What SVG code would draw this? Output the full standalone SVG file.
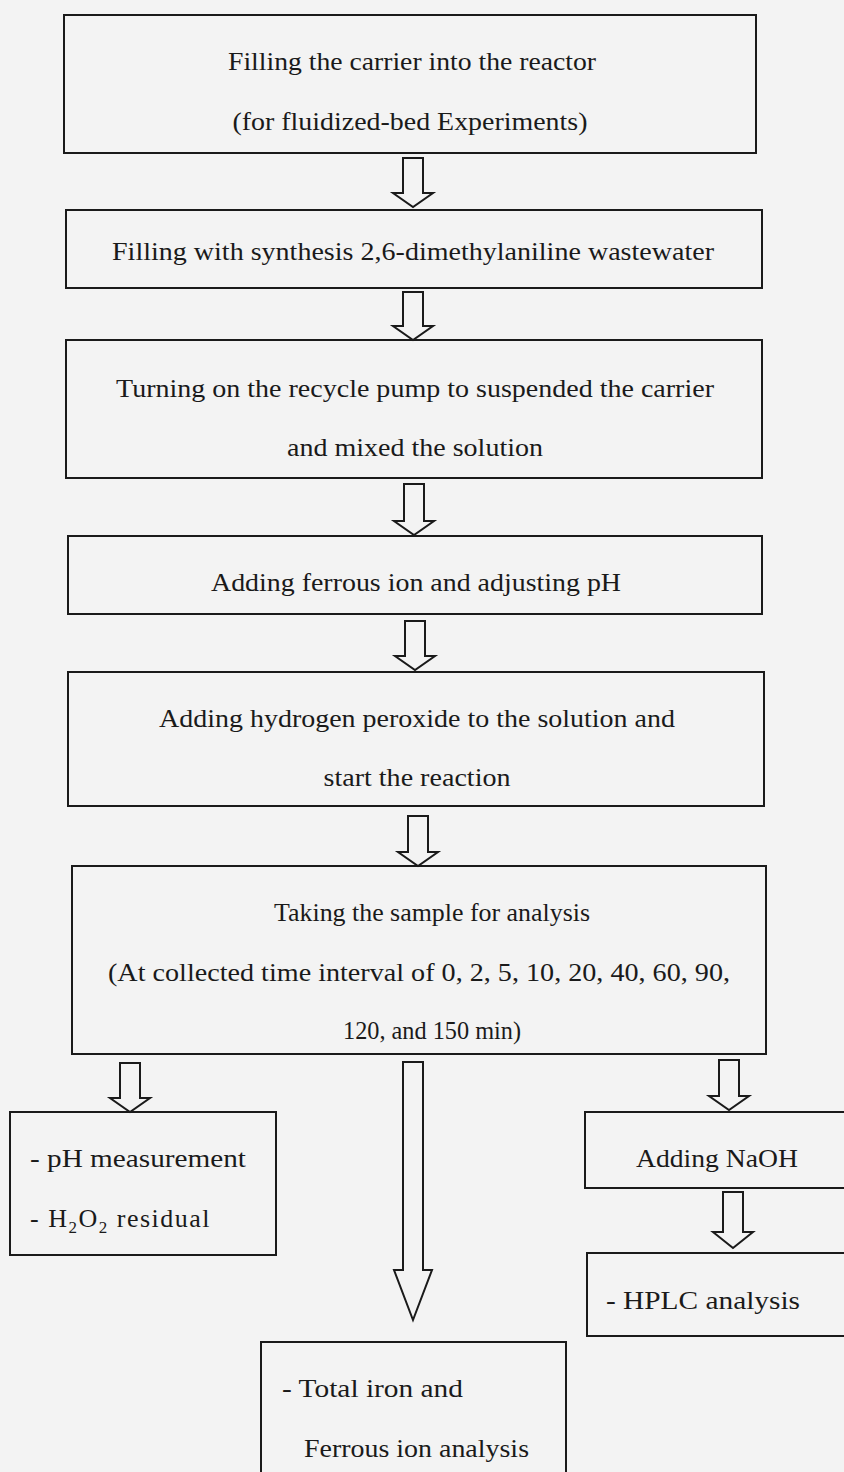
<svg xmlns="http://www.w3.org/2000/svg" width="844" height="1472" viewBox="0 0 844 1472">
<style>
.bg{fill:#f3f3f3}
.box{fill:none;stroke:#1a1a1a;stroke-width:2}
.arr{fill:none;stroke:#1a1a1a;stroke-width:2;stroke-linejoin:miter}
text{font-family:"Liberation Serif","Times New Roman",serif;font-size:26px;fill:#1a1a1a;text-anchor:middle}
.l{text-anchor:start}
</style>
<rect class="bg" x="0" y="0" width="844" height="1472"/>
<g id="connectors">
<path class="arr" d="M403,158 H423 V193 H433 L413,207 L393,193 H403 Z"/>
<path class="arr" d="M403,292 H423 V326 H433 L413,340 L393,326 H403 Z"/>
<path class="arr" d="M404,484 H424 V521 H434 L414,535 L394,521 H404 Z"/>
<path class="arr" d="M405,621 H425 V656 H435 L415,670 L395,656 H405 Z"/>
<path class="arr" d="M408,816 H428 V852 H438 L418,866 L398,852 H408 Z"/>
<path class="arr" d="M120,1063 H140 V1098 H150 L130,1112 L110,1098 H120 Z"/>
<path class="arr" d="M403,1062 H423 V1270 H432 L413,1320 L394,1270 H403 Z"/>
<path class="arr" d="M719,1060 H739 V1096 H749 L729,1110 L709,1096 H719 Z"/>
<path class="arr" d="M723,1192 H743 V1232 H753 L733,1248 L713,1232 H723 Z"/>
</g>
<g id="n1">
<rect class="box" x="64" y="15" width="692" height="138"/>
<text x="412" y="70" textLength="368" lengthAdjust="spacingAndGlyphs">Filling the carrier into the reactor</text>
<text x="410" y="130" textLength="355" lengthAdjust="spacingAndGlyphs">(for fluidized-bed Experiments)</text>
</g>
<g id="n2">
<rect class="box" x="66" y="210" width="696" height="78"/>
<text x="413" y="260" textLength="602" lengthAdjust="spacingAndGlyphs">Filling with synthesis 2,6-dimethylaniline wastewater</text>
</g>
<g id="n3">
<rect class="box" x="66" y="340" width="696" height="138"/>
<text x="415" y="397" textLength="598" lengthAdjust="spacingAndGlyphs">Turning on the recycle pump to suspended the carrier</text>
<text x="415" y="456" textLength="256" lengthAdjust="spacingAndGlyphs">and mixed the solution</text>
</g>
<g id="n4">
<rect class="box" x="68" y="536" width="694" height="78"/>
<text x="416" y="591" textLength="410" lengthAdjust="spacingAndGlyphs">Adding ferrous ion and adjusting pH</text>
</g>
<g id="n5">
<rect class="box" x="68" y="672" width="696" height="134"/>
<text x="417" y="727" textLength="516" lengthAdjust="spacingAndGlyphs">Adding hydrogen peroxide to the solution and</text>
<text x="417" y="786" textLength="187" lengthAdjust="spacingAndGlyphs">start the reaction</text>
</g>
<g id="n6">
<rect class="box" x="72" y="866" width="694" height="188"/>
<text x="432" y="921" textLength="316" lengthAdjust="spacingAndGlyphs">Taking the sample for analysis</text>
<text x="419" y="981" textLength="622" lengthAdjust="spacingAndGlyphs">(At collected time interval of 0, 2, 5, 10, 20, 40, 60, 90,</text>
<text x="432" y="1039" textLength="178" lengthAdjust="spacingAndGlyphs">120, and 150 min)</text>
</g>
<g id="n7">
<rect class="box" x="10" y="1112" width="266" height="143"/>
<text class="l" x="30" y="1167" textLength="216" lengthAdjust="spacingAndGlyphs">-  pH measurement</text>
<text class="l" x="30" y="1227" letter-spacing="1.5">-  H<tspan font-size="17" dy="6">2</tspan><tspan dy="-6">O</tspan><tspan font-size="17" dy="6">2</tspan><tspan dy="-6"> residual</tspan></text>
</g>
<g id="n8">
<rect class="box" x="585" y="1112" width="270" height="76"/>
<text x="717" y="1167" textLength="162" lengthAdjust="spacingAndGlyphs">Adding NaOH</text>
</g>
<g id="n9">
<rect class="box" x="587" y="1253" width="270" height="83"/>
<text class="l" x="606" y="1309" textLength="194" lengthAdjust="spacingAndGlyphs">-  HPLC analysis</text>
</g>
<g id="n10">
<rect class="box" x="261" y="1342" width="305" height="140"/>
<text class="l" x="282" y="1397" textLength="181" lengthAdjust="spacingAndGlyphs">-  Total iron and</text>
<text class="l" x="304" y="1457" textLength="225" lengthAdjust="spacingAndGlyphs">Ferrous ion analysis</text>
</g>
</svg>
